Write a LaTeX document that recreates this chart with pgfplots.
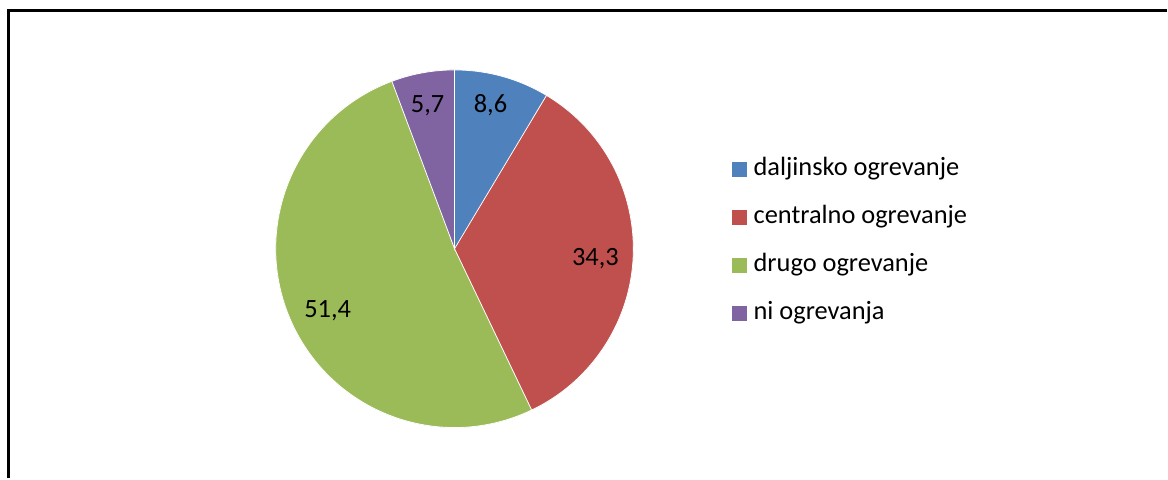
\documentclass[border=0pt]{standalone}
\usepackage{pgfplots}
\pgfplotsset{compat=1.18}
\usepackage{fontspec}
\setmainfont{Carlito}
\definecolor{cblue}{HTML}{4F81BD}
\definecolor{cred}{HTML}{C0504D}
\definecolor{cgreen}{HTML}{9BBB59}
\definecolor{cpurple}{HTML}{8064A2}
% slice: start angle, value (percent), colour
\newcommand{\slice}[3]{%
  \pgfmathsetmacro{\endang}{#1-3.6*#2}%
  \fill[#3, draw=white, line width=0.4pt] (axis cs:455,230) -- ++(#1:89.5pt)
     arc[start angle=#1, end angle=\endang, radius=89.5pt] -- cycle;}
\begin{document}
\begin{tikzpicture}
\begin{axis}[
  x=0.5pt, y=0.5pt,
  xmin=0, xmax=1168, ymin=0, ymax=479,
  hide axis, clip=false, scale only axis,
]
\path (axis cs:0,0) rectangle (axis cs:1168,479);
\draw[black, line width=1.2pt] (axis cs:8.5,0) -- (axis cs:8.5,468.5) -- (axis cs:1168,468.5);
% values: 8.6, 34.3, 51.4, 5.7 (starting at 12 o'clock, clockwise)
\slice{90}{8.6}{cblue}
\slice{59.04}{34.3}{cred}
\slice{-64.44}{51.4}{cgreen}
\slice{-249.48}{5.7}{cpurple}
\node[anchor=base, font=\fontsize{13.2}{15}\selectfont] at (axis cs:491,366) {8,6};
\node[anchor=base, font=\fontsize{13.2}{15}\selectfont] at (axis cs:596,213) {34,3};
\node[anchor=base, font=\fontsize{13.2}{15}\selectfont] at (axis cs:328,161) {51,4};
\node[anchor=base, font=\fontsize{13.2}{15}\selectfont] at (axis cs:428,366) {5,7};
% legend
\fill[cblue]   (axis cs:733,302) rectangle (axis cs:748,317);
\fill[cred]    (axis cs:733,254) rectangle (axis cs:748,269);
\fill[cgreen]  (axis cs:733,206) rectangle (axis cs:748,221);
\fill[cpurple] (axis cs:733,158) rectangle (axis cs:748,173);
\node[anchor=base west, inner xsep=0pt, font=\fontsize{13.2}{15}\selectfont] at (axis cs:754,303) {daljinsko ogrevanje};
\node[anchor=base west, inner xsep=0pt, font=\fontsize{13.2}{15}\selectfont] at (axis cs:754,255) {centralno ogrevanje};
\node[anchor=base west, inner xsep=0pt, font=\fontsize{13.2}{15}\selectfont] at (axis cs:754,207) {drugo ogrevanje};
\node[anchor=base west, inner xsep=0pt, font=\fontsize{13.2}{15}\selectfont] at (axis cs:754,159) {ni ogrevanja};
\end{axis}
\end{tikzpicture}
\end{document}
